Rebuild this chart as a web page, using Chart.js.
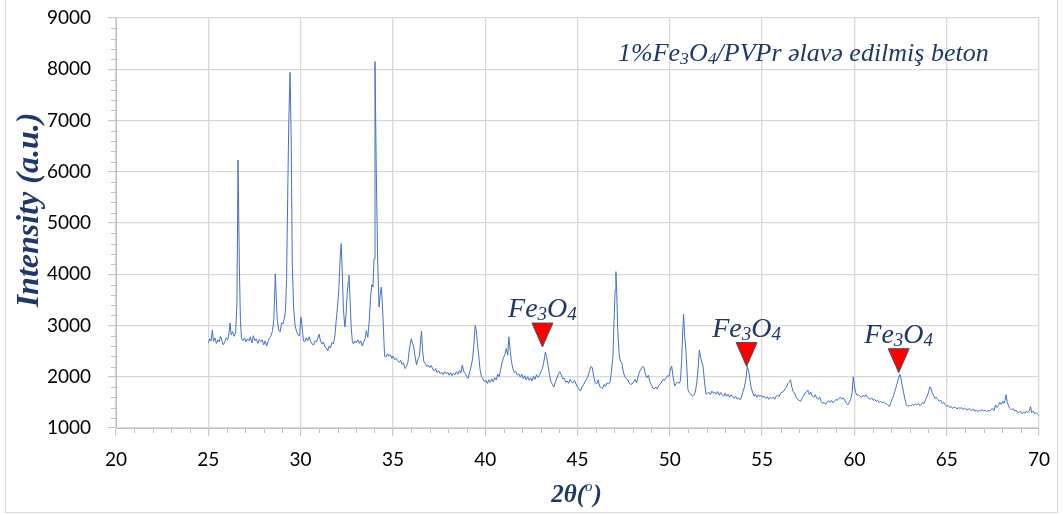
<!DOCTYPE html>
<html>
<head>
<meta charset="utf-8">
<script src="https://cdn.jsdelivr.net/npm/chart.js@4.4.0/dist/chart.umd.min.js"></script>
<style>
  body { margin: 0; background: #ffffff; }
  #wrap { position: relative; width: 1063px; height: 515px; }
</style>
</head>
<body>
<div id="wrap"><canvas id="xrd" width="1063" height="515"></canvas></div>
<script>
// 2theta (deg) and intensity (a.u.)
const twoTheta = [
  25.00, 25.08, 25.15, 25.22, 25.28, 25.36, 25.44, 25.52, 25.60, 25.66,
  25.74, 25.82, 25.90, 25.98, 26.05, 26.12, 26.18, 26.24, 26.32, 26.40,
  26.48, 26.55, 26.61, 26.68, 26.74, 26.80, 26.88, 26.96, 27.04, 27.12,
  27.20, 27.28, 27.36, 27.44, 27.52, 27.60, 27.68, 27.76, 27.84, 27.92,
  28.00, 28.08, 28.16, 28.24, 28.32, 28.40, 28.48, 28.55, 28.63, 28.68,
  28.74, 28.82, 28.90, 28.97, 29.05, 29.12, 29.18, 29.24, 29.30, 29.36,
  29.43, 29.49, 29.55, 29.62, 29.70, 29.78, 29.86, 29.94, 30.02, 30.08,
  30.15, 30.22, 30.30, 30.38, 30.46, 30.54, 30.62, 30.70, 30.78, 30.86,
  30.94, 31.00, 31.08, 31.16, 31.24, 31.32, 31.40, 31.47, 31.55, 31.62,
  31.70, 31.78, 31.86, 31.93, 32.00, 32.07, 32.14, 32.20, 32.26, 32.32,
  32.40, 32.46, 32.52, 32.58, 32.62, 32.68, 32.74, 32.80, 32.86, 32.94,
  33.02, 33.10, 33.18, 33.26, 33.34, 33.42, 33.50, 33.56, 33.64, 33.72,
  33.79, 33.86, 33.92, 33.98, 34.03, 34.10, 34.18, 34.25, 34.31, 34.37,
  34.42, 34.48, 34.55, 34.62, 34.70, 34.78, 34.86, 34.94, 35.02, 35.10,
  35.18, 35.26, 35.34, 35.42, 35.50, 35.58, 35.66, 35.74, 35.82, 35.88,
  35.94, 36.00, 36.06, 36.12, 36.20, 36.28, 36.36, 36.44, 36.50, 36.55,
  36.61, 36.68, 36.76, 36.84, 36.92, 37.00, 37.08, 37.16, 37.24, 37.32,
  37.40, 37.48, 37.56, 37.64, 37.72, 37.80, 37.88, 37.96, 38.04, 38.12,
  38.20, 38.28, 38.36, 38.44, 38.52, 38.60, 38.68, 38.76, 38.84, 38.92,
  39.00, 39.08, 39.16, 39.24, 39.32, 39.40, 39.46, 39.52, 39.58, 39.64,
  39.72, 39.80, 39.88, 39.96, 40.04, 40.12, 40.20, 40.28, 40.36, 40.44,
  40.52, 40.60, 40.68, 40.76, 40.84, 40.92, 41.00, 41.08, 41.14, 41.22,
  41.28, 41.34, 41.42, 41.50, 41.58, 41.66, 41.74, 41.82, 41.90, 41.98,
  42.06, 42.14, 42.22, 42.30, 42.38, 42.46, 42.54, 42.62, 42.70, 42.78,
  42.86, 42.94, 43.02, 43.10, 43.18, 43.26, 43.32, 43.40, 43.48, 43.56,
  43.64, 43.72, 43.80, 43.88, 43.96, 44.04, 44.12, 44.20, 44.28, 44.36,
  44.44, 44.52, 44.60, 44.68, 44.76, 44.84, 44.92, 45.00, 45.08, 45.16,
  45.24, 45.32, 45.40, 45.48, 45.56, 45.64, 45.72, 45.80, 45.88, 45.96,
  46.04, 46.12, 46.20, 46.28, 46.36, 46.44, 46.52, 46.60, 46.68, 46.76,
  46.84, 46.92, 46.98, 47.04, 47.08, 47.13, 47.18, 47.25, 47.32, 47.40,
  47.48, 47.56, 47.64, 47.72, 47.80, 47.88, 47.96, 48.04, 48.12, 48.20,
  48.28, 48.36, 48.44, 48.52, 48.60, 48.68, 48.76, 48.84, 48.92, 49.00,
  49.08, 49.16, 49.24, 49.32, 49.40, 49.48, 49.56, 49.64, 49.72, 49.80,
  49.88, 49.96, 50.04, 50.10, 50.18, 50.26, 50.34, 50.42, 50.50, 50.58,
  50.64, 50.70, 50.75, 50.80, 50.86, 50.92, 50.98, 51.06, 51.14, 51.22,
  51.30, 51.38, 51.46, 51.54, 51.60, 51.66, 51.72, 51.80, 51.88, 51.96,
  52.04, 52.12, 52.20, 52.28, 52.36, 52.44, 52.52, 52.60, 52.68, 52.76,
  52.84, 52.92, 53.00, 53.08, 53.16, 53.24, 53.32, 53.40, 53.48, 53.56,
  53.64, 53.72, 53.80, 53.88, 53.96, 54.04, 54.12, 54.20, 54.26, 54.32,
  54.40, 54.48, 54.56, 54.64, 54.72, 54.80, 54.88, 54.96, 55.04, 55.12,
  55.20, 55.28, 55.36, 55.44, 55.52, 55.60, 55.68, 55.76, 55.84, 55.92,
  56.00, 56.08, 56.16, 56.24, 56.32, 56.40, 56.48, 56.54, 56.60, 56.68,
  56.76, 56.84, 56.92, 57.00, 57.08, 57.16, 57.24, 57.32, 57.40, 57.48,
  57.56, 57.64, 57.72, 57.80, 57.88, 57.96, 58.04, 58.12, 58.20, 58.28,
  58.36, 58.44, 58.52, 58.60, 58.68, 58.76, 58.84, 58.92, 59.00, 59.08,
  59.16, 59.24, 59.32, 59.40, 59.48, 59.56, 59.64, 59.72, 59.80, 59.88,
  59.94, 60.00, 60.06, 60.14, 60.22, 60.30, 60.38, 60.46, 60.54, 60.62,
  60.70, 60.78, 60.86, 60.94, 61.02, 61.10, 61.18, 61.26, 61.34, 61.42,
  61.50, 61.58, 61.66, 61.74, 61.82, 61.90, 61.98, 62.06, 62.14, 62.22,
  62.30, 62.38, 62.46, 62.52, 62.58, 62.66, 62.74, 62.82, 62.90, 62.98,
  63.06, 63.14, 63.22, 63.30, 63.38, 63.46, 63.54, 63.62, 63.70, 63.78,
  63.86, 63.94, 64.02, 64.08, 64.14, 64.20, 64.28, 64.36, 64.44, 64.52,
  64.60, 64.68, 64.76, 64.84, 64.92, 65.00, 65.08, 65.16, 65.24, 65.32,
  65.40, 65.48, 65.56, 65.64, 65.72, 65.80, 65.88, 65.96, 66.04, 66.12,
  66.20, 66.28, 66.36, 66.44, 66.52, 66.60, 66.68, 66.76, 66.84, 66.92,
  67.00, 67.08, 67.16, 67.24, 67.32, 67.40, 67.48, 67.56, 67.64, 67.72,
  67.80, 67.88, 67.96, 68.04, 68.10, 68.16, 68.22, 68.28, 68.36, 68.44,
  68.52, 68.60, 68.68, 68.76, 68.84, 68.92, 69.00, 69.08, 69.16, 69.24,
  69.32, 69.40, 69.48, 69.54, 69.60, 69.68, 69.76, 69.84, 69.92, 70.00
];
const intensity = [
  2660, 2740, 2700, 2910, 2690, 2760, 2650, 2720, 2680, 2790,
  2700, 2620, 2690, 2760, 2720, 2850, 3050, 2820, 2880, 2790,
  2860, 3400, 6230, 4200, 3100, 2740, 2700, 2760, 2680, 2740,
  2700, 2780, 2660, 2800, 2700, 2740, 2650, 2730, 2690, 2720,
  2620, 2700, 2600, 2690, 2760, 2800, 2900, 3120, 4010, 3550,
  3100, 2900, 2880, 3050, 3030, 3150, 3290, 3900, 5500, 7000,
  7940, 6600, 4200, 3355, 3000, 2880, 2820, 2800, 3160, 3000,
  2700, 2680, 2760, 2700, 2780, 2690, 2640, 2620, 2700, 2680,
  2760, 2830, 2700, 2640, 2680, 2580, 2560, 2510, 2600, 2560,
  2670, 2640, 2800, 3100, 3360, 3700, 4300, 4600, 4000, 3300,
  2970, 3200, 3600, 3850, 3980, 3500, 2970, 2700, 2640, 2700,
  2660, 2720, 2650, 2700, 2600, 2680, 2750, 2900, 2770, 3100,
  3550, 3800, 3750, 4300, 8150, 6000, 4200, 3360, 3600, 3750,
  3500, 3000, 2400, 2380, 2450, 2400, 2430, 2360, 2400, 2330,
  2360, 2310, 2280, 2320, 2240, 2270, 2160, 2200, 2300, 2500,
  2640, 2740, 2650, 2600, 2400, 2230, 2350, 2400, 2700, 2890,
  2500, 2290, 2250, 2200, 2230, 2180, 2220, 2150, 2110, 2160,
  2080, 2120, 2060, 2090, 2040, 2100, 2060, 2090, 2030, 2080,
  2020, 2070, 2040, 2100, 2050, 2120, 2070, 2230, 2100, 2060,
  2000, 1970, 2100, 2200, 2360, 2700, 3000, 2900, 2650, 2450,
  2150, 2000, 1960, 1900, 1930, 1870, 1940, 1890, 1960, 1900,
  1980, 1940, 2050, 2000, 2150, 2290, 2380, 2450, 2550, 2420,
  2780, 2560, 2300, 2160, 2080, 2100, 2030, 2060, 1990, 2050,
  1960, 2020, 1940, 2000, 1930, 1980, 1920, 2010, 1950, 2040,
  1990, 2030, 2100, 2160, 2300, 2480, 2400, 2230, 2050, 1900,
  1850, 1800, 1900, 1970, 2050, 2100, 2040, 1960, 1970, 1890,
  1920, 1870, 1950, 1900, 1880, 1930, 1860, 1800, 1760, 1720,
  1800, 1840, 1900, 1950, 2000, 2100, 2200, 2180, 2000, 1880,
  1860, 1940, 1810, 1790, 1770, 1850, 1810, 1880, 1860, 1900,
  2100, 2400, 3100, 3700, 4050, 3600, 2900, 2470, 2300, 2280,
  2100, 2000, 1970, 1950, 1880, 1850, 1860, 1900, 1950, 1880,
  2000, 2100, 2150, 2200, 2180, 2050, 1980, 2030, 1900, 1850,
  1780, 1760, 1800, 1760, 1830, 1860, 1900, 1950, 1930, 1980,
  2020, 2010, 2150, 2210, 2000, 1820, 1860, 1900, 1870, 1920,
  2300, 2900, 3220, 2800, 2600, 2200, 1750, 1690, 1660, 1620,
  1640, 1700, 1880, 2200, 2520, 2400, 2300, 2210, 1900, 1660,
  1680, 1700, 1650, 1720, 1680, 1700, 1660, 1710, 1640, 1690,
  1650, 1620, 1680, 1620, 1660, 1600, 1650, 1610, 1580, 1620,
  1570, 1590, 1550, 1600, 1700, 1800, 1950, 2200, 2130, 2000,
  1800, 1700, 1620, 1660, 1600, 1650, 1610, 1640, 1600, 1620,
  1580, 1610, 1560, 1600, 1580, 1600, 1560, 1620, 1640, 1610,
  1680, 1700, 1710, 1760, 1800, 1870, 1900, 1940, 1820, 1710,
  1680, 1600, 1560, 1540, 1520, 1580, 1620, 1680, 1700, 1740,
  1650, 1700, 1620, 1600, 1650, 1580, 1560, 1600, 1520, 1480,
  1500, 1460, 1510, 1530, 1500, 1540, 1490, 1520, 1560, 1540,
  1580, 1600, 1560, 1590, 1540, 1480, 1450, 1500, 1560, 1700,
  2000, 1820, 1700, 1640, 1650, 1620, 1600, 1640, 1610, 1650,
  1600, 1580, 1560, 1590, 1540, 1560, 1520, 1540, 1500, 1520,
  1490, 1510, 1480, 1470, 1440, 1420, 1500, 1580, 1650, 1750,
  1850, 1950, 2050, 1980, 1850, 1700, 1560, 1450, 1420, 1440,
  1430, 1460, 1440, 1470, 1450, 1480, 1440, 1460, 1500, 1480,
  1560, 1620, 1700, 1800, 1790, 1700, 1640, 1580, 1600, 1560,
  1520, 1540, 1480, 1500, 1450, 1420, 1440, 1400, 1420, 1380,
  1410, 1400, 1370, 1400, 1380, 1400, 1360, 1390, 1370, 1350,
  1380, 1360, 1340, 1370, 1330, 1350, 1320, 1340, 1330, 1360,
  1330, 1350, 1320, 1340, 1330, 1360, 1380, 1340, 1450, 1400,
  1440, 1500, 1460, 1520, 1480, 1540, 1650, 1500, 1420, 1380,
  1350, 1380, 1330, 1350, 1310, 1300, 1330, 1280, 1310, 1290,
  1330, 1300, 1340, 1420, 1300, 1330, 1280, 1300, 1270, 1240
];

// Fe3O4 reflections marked on the pattern (apex of each red marker)
const markerTheta = [43.1, 54.16, 62.4];
const markerIntensity = [2580, 2200, 2080];

const xTicks = { min: 20, max: 70, step: 5 };
const yTicks = { min: 1000, max: 9000, step: 1000 };

const navy = "#1F3864";
const gridGray = "#d9d9d9";
const axisGray = "#bfbfbf";

// draws text with optional subscript pieces
function drawRich(ctx, parts, x, y, size, style, align) {
  let total = 0;
  const widths = parts.map((p) => {
    const s = p.sub ? size * 0.68 : size;
    ctx.font = style + " " + s + "px 'Liberation Serif', serif";
    const w = ctx.measureText(p.t).width;
    total += w;
    return w;
  });
  let cx = align === "center" ? x - total / 2 : x;
  parts.forEach((p, i) => {
    const s = p.sub ? size * 0.68 : size;
    ctx.font = style + " " + s + "px 'Liberation Serif', serif";
    ctx.fillText(p.t, cx, p.sub ? y + size * 0.12 : y);
    cx += widths[i];
  });
}

const decorPlugin = {
  id: "decor",
  beforeDraw(chart) {
    const ctx = chart.ctx;
    ctx.save();
    ctx.fillStyle = "#ffffff";
    ctx.fillRect(0, 0, chart.width, chart.height);
    ctx.strokeStyle = gridGray;
    ctx.lineWidth = 1;
    ctx.strokeRect(5.5, -2, 1052, 514.5);
    ctx.restore();
  },
  afterDraw(chart) {
    const ctx = chart.ctx;
    const xs = chart.scales.x;
    const ys = chart.scales.y;
    const area = chart.chartArea;
    ctx.save();

    // minor tick marks
    ctx.strokeStyle = axisGray;
    ctx.lineWidth = 1;
    ctx.beginPath();
    for (let v = yTicks.min; v <= yTicks.max; v += 200) {
      if (v % 1000 === 0) continue;
      const py = Math.round(ys.getPixelForValue(v)) + 0.5;
      ctx.moveTo(area.left - 5, py);
      ctx.lineTo(area.left, py);
    }
    for (let v = xTicks.min; v <= xTicks.max; v += 1) {
      if (v % 5 === 0) continue;
      const px = Math.round(xs.getPixelForValue(v)) + 0.5;
      ctx.moveTo(px, area.bottom);
      ctx.lineTo(px, area.bottom + 5);
    }
    ctx.stroke();

    // Fe3O4 markers
    markerTheta.forEach((t, i) => {
      const px = xs.getPixelForValue(t);
      const py = ys.getPixelForValue(markerIntensity[i]);
      ctx.beginPath();
      ctx.moveTo(px, py);
      ctx.lineTo(px - 10.5, py - 24);
      ctx.lineTo(px + 10.5, py - 24);
      ctx.closePath();
      ctx.fillStyle = "#ff0000";
      ctx.fill();
      ctx.strokeStyle = "#44546A";
      ctx.lineWidth = 1;
      ctx.stroke();
      ctx.fillStyle = navy;
      ctx.textBaseline = "alphabetic";
      drawRich(ctx, [{ t: "Fe" }, { t: "3", sub: true }, { t: "O" }, { t: "4", sub: true }],
        px, py - 30, 28, "italic", "center");
    });

    // sample annotation
    ctx.fillStyle = navy;
    ctx.textBaseline = "alphabetic";
    drawRich(ctx, [
      { t: "1%Fe" }, { t: "3", sub: true }, { t: "O" }, { t: "4", sub: true },
      { t: "/PVPr əlavə edilmiş beton" }
    ], 618, 61, 26, "italic", "left");

    // axis titles
    ctx.save();
    ctx.translate(29, 210);
    ctx.rotate(-Math.PI / 2);
    ctx.textAlign = "center";
    ctx.font = "italic bold 32px 'Liberation Serif', serif";
    ctx.fillText("Intensity (a.u.)", 0, 9);
    ctx.restore();

    ctx.textAlign = "left";
    ctx.font = "italic bold 25px 'Liberation Serif', serif";
    const a = "2θ(";
    const wa = ctx.measureText(a).width;
    ctx.font = "italic 15px 'Liberation Serif', serif";
    const wb = ctx.measureText("o").width;
    ctx.font = "italic bold 25px 'Liberation Serif', serif";
    const wc = ctx.measureText(")").width;
    let sx = 576 - (wa + wb + wc) / 2;
    ctx.fillText(a, sx, 502);
    ctx.font = "italic 15px 'Liberation Serif', serif";
    ctx.fillText("o", sx + wa, 491);
    ctx.font = "italic bold 25px 'Liberation Serif', serif";
    ctx.fillText(")", sx + wa + wb + 1, 502);
    ctx.restore();
  }
};

const points = twoTheta.map((t, i) => ({ x: t, y: intensity[i] }));

new Chart(document.getElementById("xrd").getContext("2d"), {
  type: "scatter",
  data: {
    datasets: [
      {
        data: points,
        showLine: true,
        borderColor: "#4472C4",
        borderWidth: 1,
        pointRadius: 0,
        tension: 0,
      },
    ],
  },
  options: {
    responsive: false,
    animation: false,
    devicePixelRatio: 1,
    layout: { padding: { top: 18, right: 24, left: 0, bottom: 0 } },
    plugins: { legend: { display: false }, tooltip: { enabled: false } },
    scales: {
      x: {
        type: "linear",
        min: xTicks.min,
        max: xTicks.max,
        ticks: {
          stepSize: xTicks.step,
          color: "#000000",
          font: { family: "Lato", size: 19 },
          padding: 12,
          maxRotation: 0,
          callback: (v) => String(v),
        },
        grid: { color: gridGray, lineWidth: 1.3, tickLength: 8, tickColor: axisGray, tickWidth: 1 },
        border: { color: axisGray, width: 1 },
        afterFit(scale) {
          scale.height = 87;
          scale.paddingLeft = 0;
          scale.paddingRight = 0;
        },
      },
      y: {
        min: yTicks.min,
        max: yTicks.max,
        ticks: {
          stepSize: yTicks.step,
          color: "#000000",
          font: { family: "Lato", size: 19 },
          padding: 17,
          callback: (v) => String(v),
        },
        grid: { color: gridGray, lineWidth: 1.3, tickLength: 8, tickColor: axisGray, tickWidth: 1 },
        border: { color: axisGray, width: 1 },
        afterFit(scale) {
          scale.width = 116;
          scale.paddingTop = 0;
          scale.paddingBottom = 0;
        },
      },
    },
  },
  plugins: [decorPlugin],
});
</script>
</body>
</html>
